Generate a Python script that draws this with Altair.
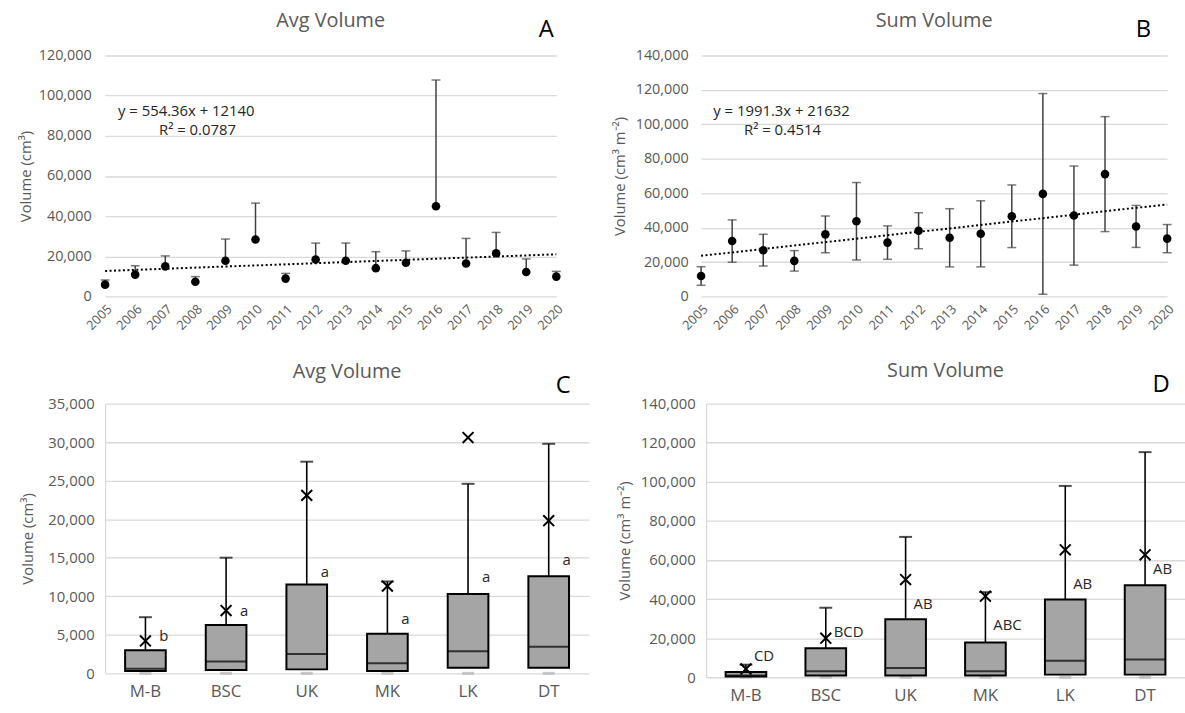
import altair as alt
import pandas as pd

# ---- data -------------------------------------------------------------
years = [2005, 2006, 2007, 2008, 2009, 2010, 2011, 2012,
         2013, 2014, 2015, 2016, 2017, 2018, 2019, 2020]

# mean individual volume per year (cm3) and its upper error
avg_mean = [5900, 10900, 15000, 7300, 17800, 28400, 8900, 18400,
            17800, 14100, 16800, 44900, 16400, 21500, 12200, 9900]
avg_err = [2300, 4400, 5200, 2600, 10800, 18100, 2600, 8200,
           8800, 8200, 5900, 62900, 12500, 10400, 6500, 2600]

# summed volume per year (cm3 m-2) and its +/- error
sum_mean = [11900, 32200, 26900, 20700, 36100, 43700, 31300, 38200,
            34100, 36400, 46600, 59600, 47000, 71100, 40700, 33600]
sum_err = [5400, 12300, 9200, 5950, 10650, 22500, 9700, 10450,
           16900, 19200, 18200, 58300, 28800, 33400, 12200, 8200]

# linear fits (x = 1 .. 16)
avg_fit = {"slope": 554.36, "intercept": 12140,
           "eq": "y = 554.36x + 12140", "r2": "R² = 0.0787"}
sum_fit = {"slope": 1991.3, "intercept": 21632,
           "eq": "y = 1991.3x + 21632", "r2": "R² = 0.4514"}

sites = ["M-B", "BSC", "UK", "MK", "LK", "DT"]

c_min = [0, 0, 0, 0, 0, 0]
c_q1 = [300, 430, 510, 300, 730, 730]
c_med = [600, 1540, 2490, 1290, 2870, 3430]
c_q3 = [3000, 6260, 11530, 5140, 10280, 12600]
c_max = [7280, 15000, 27460, 11910, 24590, 29780]
c_mean = [4200, 8140, 23090, 11310, 30590, 19800]
c_groups = ["b", "a", "a", "a", "a", "a"]
c_group_y = [4800, 8100, 13150, 7030, 12430, 14650]

d_min = [0, 0, 0, 0, 0, 0]
d_q1 = [340, 850, 850, 850, 1350, 1350]
d_med = [850, 3050, 4740, 3050, 8470, 9140]
d_q3 = [2710, 14900, 29640, 17780, 39800, 47080]
d_max = [6430, 35560, 71800, 43520, 97880, 115160]
d_mean = [4230, 19980, 49960, 41490, 65200, 62660]
d_groups = ["CD", "BCD", "AB", "ABC", "AB", "AB"]
d_group_y = [11010, 23200, 37260, 26760, 47760, 55380]

# ---- style ------------------------------------------------------------
FONT = "Open Sans"
GRAY = "#595959"
GRID = "#d9d9d9"
BOX_FILL = "#a5a5a5"
BAR_COLOR = "#404040"
X_SHAPE = "M-1,-1L1,1M-1,1L1,-1"


def panel_title(text, offset):
    return alt.TitleParams(text, fontSize=20, color=GRAY, fontWeight="normal",
                           font=FONT, offset=offset, frame="group")


def letter_layer(letter, x, y):
    return alt.Chart(pd.DataFrame({"t": [letter]})).mark_text(
        fontSize=24, color="black", align="center", baseline="middle", font=FONT
    ).encode(x=alt.value(x), y=alt.value(y), text="t:N")


def trend_panel(mean, err, two_sided, fit, eq_pos, ymax, ystep, ytitle,
                title, letter, letter_x, width, height, label_pad, title_pad,
                left_margin=None):
    lo = [m - e for m, e in zip(mean, err)] if two_sided else list(mean)
    hi = [m + e for m, e in zip(mean, err)]
    df = pd.DataFrame({"year": years, "v": mean, "lo": lo, "hi": hi})

    def xe(field="year"):
        return alt.X(f"{field}:Q",
                     scale=alt.Scale(domain=[years[0], years[-1]], nice=False, zero=False),
                     axis=alt.Axis(values=years, format="d", labelAngle=-45,
                                   labelFontSize=13, labelPadding=6, grid=False,
                                   domain=False, ticks=False, labelColor=GRAY),
                     title=None)

    def ye(field):
        return alt.Y(f"{field}:Q",
                     scale=alt.Scale(domain=[0, ymax], nice=False),
                     axis=alt.Axis(values=list(range(0, ymax + 1, ystep)), format=",.0f",
                                   labelFontSize=14.5, labelPadding=label_pad,
                                   titleFontSize=15, titlePadding=title_pad,
                                   titleFontWeight="normal", grid=True, gridColor=GRID,
                                   gridWidth=1.3, domain=False, ticks=False,
                                   labelColor=GRAY, titleColor=GRAY),
                     title=ytitle)

    base = alt.Chart(df)
    bars = base.mark_rule(color=BAR_COLOR, strokeWidth=1.5).encode(
        x=xe(), y=ye("lo"), y2="hi:Q")
    caps_hi = base.mark_tick(color=BAR_COLOR, size=9, thickness=1.5,
                             orient="horizontal").encode(x=xe(), y=ye("hi"))
    layers = [bars, caps_hi]
    if two_sided:
        layers.append(base.mark_tick(color=BAR_COLOR, size=9, thickness=1.5,
                                     orient="horizontal").encode(x=xe(), y=ye("lo")))

    ends = [years[0], years[-1]]
    trend = pd.DataFrame({
        "year": ends,
        "fit": [fit["slope"] * (yr - years[0] + 1) + fit["intercept"] for yr in ends],
    })
    line = alt.Chart(trend).mark_line(color="black", strokeWidth=2,
                                      strokeDash=[2, 2.5]).encode(x=xe(), y=ye("fit"))
    pts = base.mark_point(filled=True, color="black", size=75, opacity=1).encode(
        x=xe(), y=ye("v"))

    eq = pd.DataFrame({"year": [eq_pos[0], eq_pos[2]], "ty": [eq_pos[1], eq_pos[3]],
                       "t": [fit["eq"], fit["r2"]]})
    eq_text = alt.Chart(eq).mark_text(fontSize=15, color="#262626", font=FONT,
                                      align="center", baseline="middle").encode(
        x=xe(), y=ye("ty"), text="t:N")

    parts = layers + [line, pts, eq_text, letter_layer(letter, letter_x, -26)]
    if left_margin is not None:
        # transparent rule that reserves blank room left of the axis title
        parts.append(alt.Chart(pd.DataFrame({"m": [0]})).mark_rule(opacity=0).encode(
            x=alt.value(-left_margin), x2=alt.value(-left_margin + 1), y=alt.value(0)))
    return alt.layer(*parts).properties(
        width=width, height=height, title=panel_title(title, -13))


def box_panel(q_min, q1, med, q3, q_max, mean, groups, group_y, ymax, ystep,
              ytitle, title, letter, width, height, group_dx, label_pad,
              title_pad, letter_pos):
    df = pd.DataFrame({"site": sites, "mn": q_min, "q1": q1, "med": med,
                       "q3": q3, "mx": q_max, "mean": mean, "g": groups,
                       "gy": group_y})

    xe = alt.X("site:N", sort=sites,
               scale=alt.Scale(paddingInner=0, paddingOuter=0),
               axis=alt.Axis(labelAngle=0, labelFontSize=17, labelPadding=10,
                             domain=False, ticks=False, grid=False,
                             labelColor=GRAY),
               title=None)

    def ye(field):
        return alt.Y(f"{field}:Q",
                     scale=alt.Scale(domain=[0, ymax], nice=False),
                     axis=alt.Axis(values=list(range(0, ymax + 1, ystep)), format=",.0f",
                                   labelFontSize=15, labelPadding=label_pad,
                                   titleFontSize=15, titlePadding=title_pad,
                                   titleFontWeight="normal", grid=True, gridColor=GRID,
                                   gridWidth=1.3, domain=True, domainColor=GRID,
                                   domainWidth=1.3, ticks=False,
                                   labelColor=GRAY, titleColor=GRAY),
                     title=ytitle)

    base = alt.Chart(df)
    low_cap = base.mark_tick(color="#b0b0b0", size=12, thickness=3).encode(
        x=xe, y=ye("mn"))
    whisk = base.mark_rule(color="black", strokeWidth=1.6).encode(
        x=xe, y=ye("q3"), y2="mx:Q")
    box = base.mark_bar(width=41, fill=BOX_FILL, stroke="black",
                        strokeWidth=2).encode(x=xe, y=ye("q1"), y2="q3:Q")
    median = base.mark_tick(color="black", size=41, thickness=2).encode(
        x=xe, y=ye("med"))
    cap = base.mark_tick(color="black", size=13, thickness=2).encode(
        x=xe, y=ye("mx"))
    mark_mean = base.mark_point(shape=X_SHAPE, size=120, filled=False,
                                stroke="black", strokeWidth=2, opacity=1).encode(
        x=xe, y=ye("mean"))
    grp = base.mark_text(align="left", baseline="middle", dx=group_dx,
                         fontSize=15, color="#262626", font=FONT).encode(
        x=xe, y=ye("gy"), text="g:N")
    lt = letter_layer(letter, letter_pos[0], letter_pos[1])
    return alt.layer(low_cap, whisk, box, median, cap, mark_mean, grp, lt).properties(
        width=width, height=height, title=panel_title(title, -8))


panel_a = trend_panel(avg_mean, avg_err, False, avg_fit,
                      (2007.70, 92350, 2008.07, 82960), 120000, 20000,
                      "Volume (cm³)", "Avg Volume", "A", 445, 455, 243, 14, 5,
                      left_margin=99)
panel_b = trend_panel(sum_mean, sum_err, True, sum_fit,
                      (2007.59, 107740, 2007.62, 96790), 140000, 20000,
                      "Volume (cm³ m⁻²)", "Sum Volume", "B", 446, 470, 243, 13, 7.5)
panel_c = box_panel(c_min, c_q1, c_med, c_q3, c_max, c_mean, c_groups, c_group_y,
                    35000, 5000, "Volume (cm³)", "Avg Volume", "C", 488, 272,
                    14, 11, 12, (462, -18))
panel_d = box_panel(d_min, d_q1, d_med, d_q3, d_max, d_mean, d_groups, d_group_y,
                    140000, 20000, "Volume (cm³ m⁻²)", "Sum Volume", "D", 483, 276,
                    8, 11, 8, (459, -19))

top_row = alt.hconcat(panel_a, panel_b, spacing=47)
bottom_row = alt.hconcat(panel_c, panel_d, spacing=28)

chart = alt.vconcat(top_row, bottom_row, spacing=28).properties(
    padding={"left": 7, "top": 8, "right": 0, "bottom": 0},
    background="white",
).configure(font=FONT).configure_view(stroke=None)

chart.save("out.html", embed_options={"renderer": "svg", "actions": False})
